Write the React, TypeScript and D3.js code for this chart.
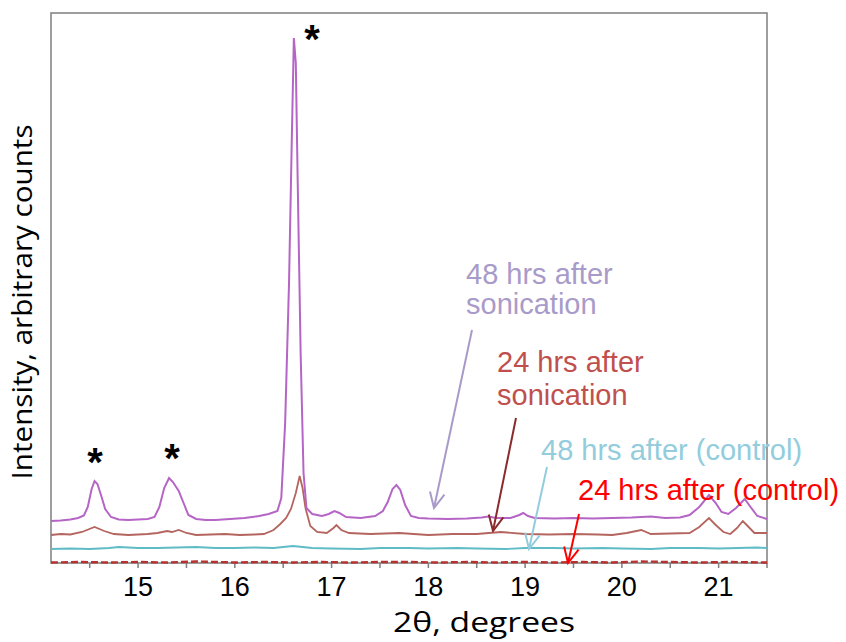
import React from "react";
import * as d3 from "d3";

const X_TICKS = [15, 16, 17, 18, 19, 20, 21];
const X_MINOR = [14.5, 15, 15.5, 16, 16.5, 17, 17.5, 18, 18.5, 19, 19.5, 20, 20.5, 21, 21.5];

// 48 hrs after sonication
const s48: [number, number][] = [
  [14.1, 84], [14.2, 85], [14.3, 87], [14.38, 90], [14.44, 95], [14.48, 112], [14.52, 148], [14.55, 164],
  [14.58, 158], [14.62, 134], [14.66, 108], [14.72, 92], [14.8, 87], [14.9, 86], [15.0, 87], [15.1, 88],
  [15.17, 92], [15.22, 112], [15.27, 150], [15.32, 170], [15.36, 162], [15.42, 144], [15.47, 120],
  [15.52, 96], [15.6, 88], [15.7, 86], [15.8, 86], [15.95, 88], [16.1, 90], [16.25, 94], [16.35, 98],
  [16.44, 104], [16.48, 130], [16.52, 280], [16.56, 560], [16.59, 860], [16.61, 1050], [16.63, 1000],
  [16.65, 760], [16.68, 420], [16.71, 180], [16.74, 110], [16.8, 98], [16.9, 94], [16.97, 98],
  [17.03, 104], [17.08, 100], [17.15, 92], [17.3, 90], [17.45, 94], [17.53, 104], [17.58, 122],
  [17.63, 148], [17.67, 156], [17.71, 146], [17.76, 116], [17.82, 94], [17.9, 90], [18.0, 89],
  [18.2, 88], [18.4, 89], [18.55, 91], [18.62, 93], [18.7, 90], [18.85, 90], [18.94, 96], [18.98, 100],
  [19.03, 94], [19.1, 90], [19.3, 89], [19.5, 90], [19.7, 89], [19.9, 90], [20.1, 91], [20.3, 93],
  [20.45, 90], [20.6, 91], [20.7, 96], [20.8, 112], [20.9, 136], [20.97, 120], [21.03, 102],
  [21.1, 98], [21.18, 110], [21.27, 128], [21.33, 112], [21.4, 94], [21.5, 88],
];

// 24 hrs after sonication
const s24: [number, number][] = [
  [14.1, 56], [14.2, 58], [14.3, 57], [14.42, 62], [14.55, 72], [14.65, 64], [14.75, 58], [14.9, 56],
  [15.0, 57], [15.1, 58], [15.2, 60], [15.3, 64], [15.35, 62], [15.42, 66], [15.5, 60], [15.6, 56],
  [15.75, 57], [15.9, 58], [16.05, 56], [16.2, 57], [16.3, 58], [16.4, 66], [16.47, 78], [16.53, 90],
  [16.58, 108], [16.63, 140], [16.67, 174], [16.7, 150], [16.73, 110], [16.78, 74], [16.85, 62],
  [16.95, 60], [17.02, 70], [17.05, 76], [17.1, 66], [17.18, 60], [17.4, 58], [17.7, 60], [18.0, 56],
  [18.25, 58], [18.5, 58], [18.75, 62], [19.0, 58], [19.25, 57], [19.5, 58], [19.75, 57], [19.9, 56],
  [20.05, 60], [20.2, 66], [20.3, 58], [20.5, 59], [20.7, 60], [20.8, 72], [20.9, 90], [20.97, 76],
  [21.05, 62], [21.12, 58], [21.19, 70], [21.25, 84], [21.3, 74], [21.37, 60], [21.5, 60],
];

// 48 hrs after (control)
const c48: [number, number][] = [
  [14.1, 28], [14.3, 29], [14.5, 28], [14.7, 30], [14.8, 32], [15.0, 30], [15.2, 30], [15.4, 31],
  [15.6, 32], [15.8, 30], [16.0, 30], [16.2, 31], [16.4, 30], [16.6, 34], [16.8, 30], [17.0, 29],
  [17.3, 28], [17.5, 30], [17.8, 30], [18.0, 29], [18.3, 30], [18.5, 29], [18.8, 28], [19.0, 30],
  [19.3, 30], [19.5, 29], [19.8, 30], [20.0, 29], [20.3, 28], [20.5, 30], [20.8, 30], [21.0, 29],
  [21.2, 30], [21.4, 31], [21.5, 30],
];

// 24 hrs after (control)
const c24: [number, number][] = [
  [14.1, 1], [14.4, 2], [14.7, 1], [15.0, 2], [15.3, 1], [15.6, 3], [15.8, 2], [16.0, 1], [16.3, 2],
  [16.6, 1], [16.9, 2], [17.2, 1], [17.5, 2], [17.8, 2], [18.1, 1], [18.4, 2], [18.7, 1], [19.0, 2],
  [19.3, 1], [19.6, 2], [19.9, 1], [20.2, 3], [20.5, 2], [20.8, 1], [21.1, 2], [21.5, 1],
];

const W = 846;
const H = 642;
const L = 51, R = 767, T = 13, B = 563;

export default function App() {
  const x = d3.scaleLinear().domain([14.1, 21.5]).range([L, R]);
  const y = d3.scaleLinear().domain([0, 1100]).range([B, T]);
  const line = d3.line<[number, number]>().x((d) => x(d[0])).y((d) => y(d[1]));
  const font = "'Liberation Sans', Arial, sans-serif";
  const titleFont = "'Open Sans', 'Noto Sans', sans-serif";

  const arrow = (x1: number, y1: number, x2: number, y2: number, color: string) => {
    const ang = Math.atan2(y2 - y1, x2 - x1);
    const len = 17;
    const spread = 0.45;
    const a1 = [x2 - len * Math.cos(ang - spread), y2 - len * Math.sin(ang - spread)];
    const a2 = [x2 - len * Math.cos(ang + spread), y2 - len * Math.sin(ang + spread)];
    return (
      <g stroke={color} strokeWidth={2} fill="none">
        <line x1={x1} y1={y1} x2={x2} y2={y2} />
        <polyline points={`${a1[0]},${a1[1]} ${x2},${y2} ${a2[0]},${a2[1]}`} />
      </g>
    );
  };

  return (
    <svg width={W} height={H} style={{ display: "block", position: "absolute", left: 0, top: 0 }}>
      <rect x={0} y={0} width={W} height={H} fill="#fff" />
      {/* frame */}
      <rect x={L} y={T} width={R - L} height={B - T} fill="none" stroke="#7f7f7f" strokeWidth={1.5} />
      {X_MINOR.map((t) => (
        <line key={t} x1={x(t)} x2={x(t)} y1={B} y2={B + 5} stroke="#7f7f7f" strokeWidth={1.5} />
      ))}
      {X_TICKS.map((t) => (
        <text key={t} x={x(t)} y={596} textAnchor="middle" fontFamily={font} fontSize={27} fill="#000">
          {t}
        </text>
      ))}
      {/* series */}
      <path d={line(c24) || ""} fill="none" stroke="#b8312f" strokeWidth={2.4} strokeDasharray="7,3" />
      <path d={line(c48) || ""} fill="none" stroke="#5fbcc6" strokeWidth={1.8} />
      <path d={line(s24) || ""} fill="none" stroke="#b5655f" strokeWidth={1.8} />
      <path d={line(s48) || ""} fill="none" stroke="#b565c5" strokeWidth={2} />

      {/* stars */}
      <text x={95} y={476} textAnchor="middle" fontFamily={font} fontWeight="bold" fontSize={40}>*</text>
      <text x={172} y={472} textAnchor="middle" fontFamily={font} fontWeight="bold" fontSize={40}>*</text>
      <text x={312} y={53} textAnchor="middle" fontFamily={font} fontWeight="bold" fontSize={40}>*</text>

      {/* annotations */}
      <text fontFamily={font} fontSize={29} fill="#a99bc9">
        <tspan x={466} y={284}>48 hrs after</tspan>
        <tspan x={466} y={314}>sonication</tspan>
      </text>
      {arrow(472, 330, 434, 508, "#a99bc9")}
      <text fontFamily={font} fontSize={29} fill="#c0504d">
        <tspan x={497} y={372}>24 hrs after</tspan>
        <tspan x={497} y={405}>sonication</tspan>
      </text>
      {arrow(516, 418, 493, 531, "#8b2a2a")}
      <text x={541} y={460} fontFamily={font} fontSize={29} fill="#93cddd">48 hrs after (control)</text>
      {arrow(547, 467, 529, 549, "#93cddd")}
      <text x={578} y={500} fontFamily={font} fontSize={29} fill="#ff0000">24 hrs after (control)</text>
      {arrow(579, 514, 568, 563, "#ff0000")}

      {/* axis labels */}
      <text
        x={484}
        y={632}
        textAnchor="middle"
        fontFamily={titleFont}
        fontSize={28}
        fill="#000"
        textLength={182}
        lengthAdjust="spacingAndGlyphs"
      >
        2θ, degrees
      </text>
      <text
        transform={`translate(32, 302) rotate(-90)`}
        textAnchor="middle"
        fontFamily={titleFont}
        fontSize={27}
        fill="#000"
        textLength={355}
        lengthAdjust="spacingAndGlyphs"
      >
        Intensity, arbitrary counts
      </text>
    </svg>
  );
}
